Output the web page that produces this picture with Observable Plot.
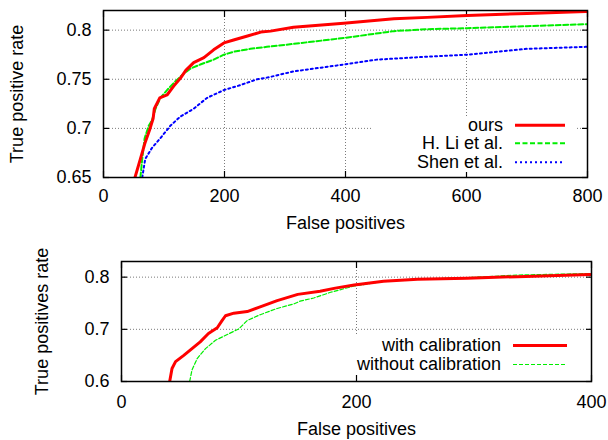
<!DOCTYPE html>
<html>
<head>
<meta charset="utf-8">
<script src="https://cdn.jsdelivr.net/npm/d3@7"></script>
<script src="https://cdn.jsdelivr.net/npm/@observablehq/plot@0.6"></script>
<style>
  html, body { margin: 0; padding: 0; background: white; }
  body { width: 608px; height: 440px; overflow: hidden; font-family: "Liberation Sans", Arial, sans-serif; }
  .panel { position: relative; width: 608px; }
  .legend { position: absolute; background: white; font-size: 18px; color: black; }
  .row { display: flex; align-items: center; }
  .row span { text-align: right; white-space: nowrap; display: block; }
  .row svg { display: block; }
</style>
</head>
<body>
<div id="top" class="panel"></div>
<div id="bottom" class="panel"></div>
<script>
// ---------- data: top panel ----------
const topXTicks = [0, 200, 400, 600, 800];
const topYTicks = [0.65, 0.7, 0.75, 0.8];
const topXGrid = [200, 400, 600];
const topYGrid = [0.7, 0.75, 0.8];

const oursFP  = [52, 61, 69, 77, 82, 84, 93, 105, 116, 127, 136, 149, 166, 182, 199, 215, 238, 260, 276, 314, 397, 480, 535, 601, 700, 797, 800];
const oursTPR = [0.65, 0.669, 0.686, 0.700, 0.710, 0.720, 0.731, 0.734, 0.743, 0.751, 0.759, 0.767, 0.772, 0.780, 0.787, 0.790, 0.794, 0.798, 0.799, 0.803, 0.807, 0.8115, 0.813, 0.815, 0.817, 0.819, 0.819];

const liFP  = [61, 64, 68, 75, 80, 86, 94, 105, 119, 133, 144, 160, 182, 199, 215, 243, 270, 314, 397, 480, 535, 601, 700, 797, 800];
const liTPR = [0.65, 0.669, 0.690, 0.703, 0.708, 0.720, 0.731, 0.739, 0.748, 0.756, 0.761, 0.765, 0.770, 0.775, 0.778, 0.781, 0.783, 0.786, 0.792, 0.799, 0.801, 0.802, 0.804, 0.806, 0.806];

const shenFP  = [64, 69, 80, 94, 111, 127, 149, 171, 199, 226, 254, 273, 314, 397, 452, 535, 601, 700, 797, 800];
const shenTPR = [0.65, 0.669, 0.680, 0.690, 0.703, 0.712, 0.720, 0.731, 0.739, 0.744, 0.750, 0.752, 0.758, 0.765, 0.770, 0.773, 0.775, 0.781, 0.783, 0.783];

const topNames = ["ours", "H. Li et al.", "Shen et al."];

// ---------- data: bottom panel ----------
const botXTicks = [0, 200, 400];
const botYTicks = [0.6, 0.7, 0.8];
const botXGrid = [200];
const botYGrid = [0.7, 0.8];

const withFP  = [41, 43, 46, 53, 60, 67, 74, 81.5, 85.7, 88.5, 95.6, 107, 118, 132.5, 150, 169, 182, 198, 223, 252, 294, 337, 399];
const withTPR = [0.6, 0.625, 0.638, 0.650, 0.663, 0.676, 0.692, 0.703, 0.717, 0.726, 0.731, 0.734, 0.743, 0.755, 0.767, 0.773, 0.779, 0.785, 0.792, 0.796, 0.798, 0.801, 0.805];

const withoutFP  = [58, 60, 64.4, 71.5, 80, 90, 100, 107, 118, 132.5, 147, 152, 163.6, 178, 198, 223, 252, 294, 337, 399];
const withoutTPR = [0.6, 0.622, 0.644, 0.663, 0.679, 0.690, 0.701, 0.717, 0.728, 0.740, 0.749, 0.754, 0.760, 0.771, 0.783, 0.792, 0.796, 0.799, 0.804, 0.807];

const botNames = ["with calibration", "without calibration"];

// ---------- styles ----------
const FONT = "'Liberation Sans', Arial, Helvetica, sans-serif";
const topStyles = [
  {stroke: "#ff0000", strokeWidth: 3, strokeDasharray: null},
  {stroke: "#00ee00", strokeWidth: 2, strokeDasharray: "5,2.5"},
  {stroke: "#0000ff", strokeWidth: 2, strokeDasharray: "2,3"}
];
const botStyles = [
  {stroke: "#ff0000", strokeWidth: 3, strokeDasharray: null},
  {stroke: "#00ee00", strokeWidth: 1.2, strokeDasharray: "4,2"}
];

const zip = (xs, ys) => xs.map((x, i) => ({x, y: ys[i]}));
const gridStyle = {stroke: "#7a7a7a", strokeOpacity: 1, strokeWidth: 1, strokeDasharray: "1,2"};
const fmt = d3.format("~g");

function panel({xTicks, yTicks, xGrid, yGrid, xDomain, yDomain, series, styles, height, margins, xPad, yPad, ylabel, yLabelOffset, xLabelOffset}) {
  return Plot.plot({
    width: 608,
    height,
    ...margins,
    style: {fontFamily: FONT, fontSize: "18px", color: "black", background: "white", overflow: "visible"},
    x: {domain: xDomain},
    y: {domain: yDomain},
    marks: [
      Plot.gridX(xGrid, gridStyle),
      Plot.gridY(yGrid, gridStyle),
      Plot.axisX(xTicks, {anchor: "bottom", tickSize: 0, tickPadding: xPad, tickFormat: fmt, label: "False positives", labelAnchor: "center", labelArrow: "none", labelOffset: xLabelOffset}),
      Plot.axisX(xTicks, {anchor: "bottom", tickSize: -6, fill: "none", label: null, strokeWidth: 1.2}),
      Plot.axisX(xTicks, {anchor: "top", tickSize: -6, fill: "none", label: null, strokeWidth: 1.2}),
      Plot.axisY(yTicks, {anchor: "left", tickSize: 0, tickPadding: yPad, tickFormat: fmt, label: ylabel, labelAnchor: "center", labelArrow: "none", labelOffset: yLabelOffset}),
      Plot.axisY(yTicks, {anchor: "left", tickSize: -6, fill: "none", label: null, strokeWidth: 1.2}),
      Plot.axisY(yTicks, {anchor: "right", tickSize: -6, fill: "none", label: null, strokeWidth: 1.2}),
      ...series.slice().reverse().map((s, i) => {
        const st = styles[series.length - 1 - i];
        return Plot.line(s, {x: "x", y: "y", clip: true, ...st});
      }),
      Plot.frame({stroke: "black", strokeWidth: 1.5})
    ]
  });
}

function legend(container, names, styles, box, textW, sampleW, rowH) {
  const lg = d3.select(container).append("div").attr("class", "legend")
    .style("left", box.left + "px").style("top", box.top + "px")
    .style("width", box.width + "px").style("height", box.height + "px");
  names.forEach((n, i) => {
    const row = lg.append("div").attr("class", "row").style("height", rowH + "px").style("line-height", rowH + "px");
    row.append("span").style("width", textW + "px").text(n);
    const sv = row.append("svg").attr("width", sampleW).attr("height", rowH).style("margin-left", "12px");
    const st = styles[i];
    sv.append("line").attr("x1", 0).attr("x2", sampleW).attr("y1", rowH / 2).attr("y2", rowH / 2)
      .attr("stroke", st.stroke).attr("stroke-width", st.strokeWidth)
      .attr("stroke-dasharray", st.strokeDasharray);
  });
}

const topEl = document.getElementById("top");
topEl.append(panel({
  xTicks: topXTicks, yTicks: topYTicks, xGrid: topXGrid, yGrid: topYGrid,
  xDomain: [0, 800], yDomain: [0.65, 0.82],
  series: [zip(oursFP, oursTPR), zip(liFP, liTPR), zip(shenFP, shenTPR)],
  styles: topStyles, height: 235,
  margins: {marginLeft: 103, marginRight: 21, marginTop: 10, marginBottom: 58},
  xPad: 12, yPad: 12, ylabel: "True positive rate", yLabelOffset: 93, xLabelOffset: 51
}));
legend(topEl, topNames, topStyles, {left: 371, top: 115.5, width: 206, height: 56}, 132, 50, 18.5);

const botEl = document.getElementById("bottom");
botEl.append(panel({
  xTicks: botXTicks, yTicks: botYTicks, xGrid: botXGrid, yGrid: botYGrid,
  xDomain: [0, 400], yDomain: [0.6, 0.83],
  series: [zip(withFP, withTPR), zip(withoutFP, withoutTPR)],
  styles: botStyles, height: 205,
  margins: {marginLeft: 121, marginRight: 17, marginTop: 26, marginBottom: 59},
  xPad: 14, yPad: 12, ylabel: "True positives rate", yLabelOffset: 86, xLabelOffset: 53.5
}));
legend(botEl, botNames, botStyles, {left: 340, top: 101, width: 240, height: 38}, 161, 54, 19);
</script>
</body>
</html>
